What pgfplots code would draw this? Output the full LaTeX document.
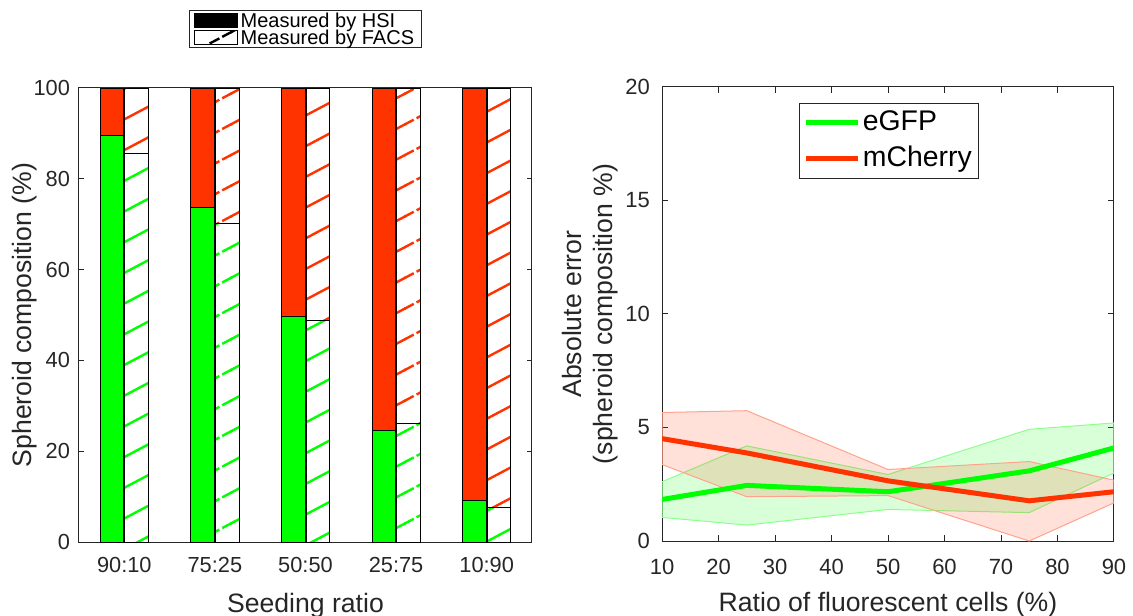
\documentclass[border=0pt]{standalone}
\usepackage{fontspec}
\setmainfont{Liberation Sans}
\usepackage{pgfplots}
\pgfplotsset{compat=1.18}
\usetikzlibrary{patterns.meta}
\definecolor{mgreen}{RGB}{0,255,0}
\definecolor{mred}{RGB}{255,51,0}
\definecolor{axgray}{RGB}{38,38,38}

\pgfdeclarepattern{
  name=hatchsolid, type=uncolored,
  bottom left={\pgfpoint{-1pt}{-1pt}},
  top right={\pgfpoint{30pt}{16.35pt}},
  tile size={\pgfpoint{29pt}{15.35pt}},
  code={\pgfsetlinewidth{1.2pt}\pgfpathmoveto{\pgfpoint{-1pt}{-0.53pt}}\pgfpathlineto{\pgfpoint{30pt}{15.88pt}}\pgfusepath{stroke}}
}
\pgfdeclarepattern{
  name=hatchdash, type=uncolored,
  bottom left={\pgfpoint{-1pt}{-1pt}},
  top right={\pgfpoint{30pt}{16.35pt}},
  tile size={\pgfpoint{29pt}{15.35pt}},
  code={\pgfsetlinewidth{1.2pt}\pgfsetdash{{5.5pt}{1.6pt}}{0pt}\pgfpathmoveto{\pgfpoint{-1pt}{-0.53pt}}\pgfpathlineto{\pgfpoint{30pt}{15.88pt}}\pgfusepath{stroke}}
}

\pgfplotsset{
  mybase/.style={
    scale only axis, enlargelimits=false,
    axis line style={axgray, line width=0.5pt},
    tick style={axgray, line width=0.5pt},
    tick align=inside,
    /pgf/number format/assume math mode=true,
    tick label style={text=axgray, font=\fontsize{10.9}{12}\selectfont},
    label style={text=axgray},
  },
  leftgeom/.style={
    mybase, at={(39.5pt,36.5pt)}, anchor=south west,
    width=226.5pt, height=227pt,
    xmin=0.5, xmax=5.5, ymin=0, ymax=100,
    ybar stacked, bar width=0.26,
  },
}

\begin{document}
\begin{tikzpicture}
\useasboundingbox (0,0) rectangle (566.5pt,307.5pt);

% ---------- left: HSI bars + axis ----------
\begin{axis}[
  leftgeom,
  xtick={1,2,3,4,5},
  xticklabels={90:10,75:25,50:50,25:75,10:90},
  ytick={0,20,40,60,80,100},
  major tick length=2.5pt,
  xticklabel style={yshift=-4pt},
  yticklabel style={xshift=-1pt},
  xlabel={Seeding ratio},
  ylabel={Spheroid composition (\%)},
  xlabel style={font=\fontsize{13.3}{15}\selectfont, at={(axis description cs:0.5,0)}, anchor=base, yshift=-35pt},
  ylabel style={font=\fontsize{13.3}{15}\selectfont, at={(axis description cs:-0.1038,0.5)}, anchor=base},
  legend image code/.code={\draw[#1] (0pt,-3.4pt) rectangle (21.5pt,3.4pt);},
  legend style={at={(axis description cs:0.5,1)}, anchor=south, yshift=20pt,
    font=\fontsize{10}{10}\selectfont, draw=axgray, line width=0.5pt,
    inner xsep=2.2pt, inner ysep=0.6pt, row sep=0pt,
    nodes={inner xsep=1.3pt, inner ysep=0pt, text height=7.6pt, text depth=1pt}},
  legend cell align=left,
]
\addlegendimage{fill=black, draw=black, line width=0.4pt}
\addlegendentry{Measured by HSI}
\addlegendimage{pattern=hatchdash, pattern color=black, draw=black, line width=0.4pt}
\addlegendentry{Measured by FACS}
\addplot[fill=mgreen, draw=black, line width=0.4pt, bar shift=-0.135]
  coordinates {(1,89.5) (2,73.6) (3,49.8) (4,24.5) (5,9.25)};
\addplot[fill=mred, draw=black, line width=0.4pt, bar shift=-0.135]
  coordinates {(1,10.5) (2,26.4) (3,50.2) (4,75.5) (5,90.75)};
\end{axis}

% ---------- left: FACS bars (solid hatch) ----------
\begin{axis}[leftgeom, hide axis]
\addplot[pattern=hatchsolid, pattern color=mgreen, draw=black, line width=0.4pt, bar shift=0.135]
  coordinates {(1,85.6) (3,48.7) (5,7.6)};
\addplot[pattern=hatchsolid, pattern color=mred, draw=black, line width=0.4pt, bar shift=0.135]
  coordinates {(1,14.4) (3,51.3) (5,92.4)};
\end{axis}

% ---------- left: FACS bars (dashed hatch) ----------
\begin{axis}[leftgeom, hide axis]
\addplot[pattern=hatchdash, pattern color=mgreen, draw=black, line width=0.4pt, bar shift=0.135]
  coordinates {(2,70.1) (4,26.1)};
\addplot[pattern=hatchdash, pattern color=mred, draw=black, line width=0.4pt, bar shift=0.135]
  coordinates {(2,29.9) (4,73.9)};
\end{axis}

% ---------- right: absolute error ----------
\begin{axis}[
  mybase, at={(331pt,37pt)}, anchor=south west,
  width=226pt, height=227pt,
  xmin=10, xmax=90, ymin=0, ymax=20,
  xtick={10,20,...,90}, ytick={0,5,10,15,20},
  major tick length=3pt,
  tick label style={font=\fontsize{11}{12}\selectfont},
  xticklabel style={yshift=-5.4pt},
  yticklabel style={xshift=-2.5pt},
  xlabel={Ratio of fluorescent cells (\%)},
  ylabel={Absolute error\\(spheroid composition \%)},
  xlabel style={font=\fontsize{13.3}{15}\selectfont, at={(axis description cs:0.5,0)}, anchor=base, yshift=-35.3pt},
  ylabel style={font=\fontsize{13.3}{15.5}\selectfont, align=center, inner sep=0pt, at={(axis description cs:-0.097,0.5)}, anchor=south},
  legend image code/.code={\draw[#1] (0pt,0pt) -- (26pt,0pt);},
  legend style={at={(axis description cs:0.303,0.965)}, anchor=north west,
    font=\fontsize{14.2}{16}\selectfont, draw=axgray, line width=0.5pt,
    inner xsep=2pt, inner ysep=2pt, row sep=2.5pt,
    nodes={inner xsep=1.2pt, inner ysep=1pt, text height=10.5pt, text depth=3pt}},
  legend cell align=left,
]
\addplot[draw=mgreen!45, fill=mgreen, fill opacity=0.15, line width=0.5pt, forget plot]
  coordinates {(10,2.61) (25,4.19) (50,2.93) (75,4.92) (90,5.20)
               (90,3.00) (75,1.25) (50,1.39) (25,0.70) (10,1.04)} -- cycle;
\addplot[draw=mred!45, fill=mred, fill opacity=0.15, line width=0.5pt, forget plot]
  coordinates {(10,5.66) (25,5.74) (50,3.15) (75,3.50) (90,2.68)
               (90,1.68) (75,0.00) (50,2.00) (25,1.95) (10,3.37)} -- cycle;
\addplot[mgreen, line width=2.5pt]
  coordinates {(10,1.83) (25,2.45) (50,2.17) (75,3.09) (90,4.10)};
\addlegendentry{eGFP}
\addplot[mred, line width=2.5pt]
  coordinates {(10,4.51) (25,3.88) (50,2.65) (75,1.77) (90,2.17)};
\addlegendentry{mCherry}
\end{axis}
\end{tikzpicture}
\end{document}
